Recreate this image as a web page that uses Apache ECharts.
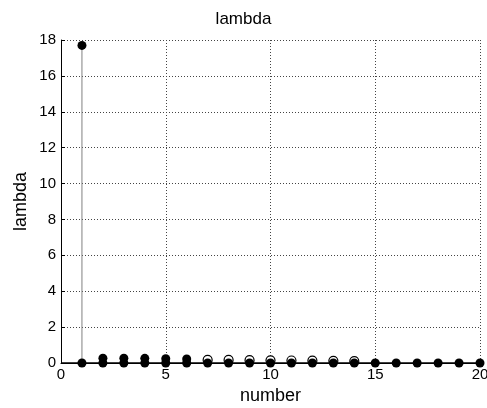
<!DOCTYPE html>
<html>
<head>
<meta charset="utf-8">
<script src="https://cdn.jsdelivr.net/npm/echarts@6/dist/echarts.min.js"></script>
<style>html,body{margin:0;padding:0;background:#fff;}#c{width:487px;height:408px;}</style>
</head>
<body>
<div id="c"></div>
<script>
var filledX = [1, 2, 3, 4, 5, 6];
var filledY = [17.7, 0.27, 0.27, 0.26, 0.24, 0.22];
var openX = [7, 8, 9, 10, 11, 12, 13, 14];
var openY = [0.17, 0.17, 0.16, 0.15, 0.14, 0.13, 0.12, 0.1];
var zeroX = [1,2,3,4,5,6,7,8,9,10,11,12,13,14,15,16,17,18,19,20];
var zeroY = [0,0,0,0,0,0,0,0,0,0,0,0,0,0,0,0,0,0,0,0];
var xTicks = [0, 5, 10, 15, 20];
var yTicks = [0, 2, 4, 6, 8, 10, 12, 14, 16, 18];

function pairs(xs, ys){ return xs.map(function(x,i){ return [x, ys[i]]; }); }
var font = 'Liberation Sans, Arial, sans-serif';

function stem(color){
  return function(params, api){
    var p0 = api.coord([api.value(0), 0]);
    var p1 = api.coord([api.value(0), api.value(1)]);
    return {type:'line', shape:{x1:p0[0], y1:p0[1], x2:p1[0], y2:p1[1]}, style:{stroke:color, lineWidth:1}};
  };
}

var chart = echarts.init(document.getElementById('c'));
chart.setOption({
  animation: false,
  title: {text:'lambda', left:'center', top:6, textStyle:{fontFamily:font, fontSize:17, fontWeight:'normal', color:'#000'}},
  grid: {left:61, right:7, top:40, bottom:45, outerBoundsMode:'none', containLabel:false},
  xAxis: {
    type:'value', min:xTicks[0], max:xTicks[xTicks.length-1], interval:5,
    name:'number', nameLocation:'middle', nameGap:22,
    nameTextStyle:{fontFamily:font, fontSize:18, color:'#000'},
    axisLine:{show:true, onZero:false, lineStyle:{color:'#000', width:1}},
    axisTick:{inside:true, length:4, lineStyle:{color:'#000'}},
    axisLabel:{fontFamily:font, fontSize:15, color:'#000', margin:4},
    splitLine:{show:true, lineStyle:{color:'#444', type:[1,2], width:1}}
  },
  yAxis: {
    type:'value', min:yTicks[0], max:yTicks[yTicks.length-1], interval:2,
    name:'lambda', nameLocation:'middle', nameGap:31, nameMoveOverlap:false,
    nameTextStyle:{fontFamily:font, fontSize:18, color:'#000'},
    axisLine:{show:true, lineStyle:{color:'#000', width:1}},
    axisTick:{inside:true, length:4, lineStyle:{color:'#000'}},
    axisLabel:{fontFamily:font, fontSize:15, color:'#000', margin:5},
    splitLine:{show:true, lineStyle:{color:'#444', type:[1,2], width:1}}
  },
  series: [
    {type:'custom', data:pairs(filledX, filledY), renderItem:stem('#808080'), z:2},
    {type:'custom', data:pairs(openX, openY), renderItem:stem('#808080'), z:2},
    {type:'line', data:[[xTicks[0],0],[xTicks[xTicks.length-1],0]], symbol:'none', lineStyle:{color:'#000', width:1.5}, z:3},
    {type:'scatter', data:pairs(filledX, filledY), symbol:'circle', symbolSize:9, itemStyle:{color:'#000', opacity:1}, z:4},
    {type:'scatter', data:pairs(openX, openY), symbol:'circle', symbolSize:9, itemStyle:{color:'#fff', borderColor:'#000', borderWidth:1.2, opacity:1}, z:5},
    {type:'scatter', data:pairs(zeroX, zeroY), symbol:'circle', symbolSize:9, itemStyle:{color:'#000', opacity:1}, z:6}
  ]
});
</script>
</body>
</html>
